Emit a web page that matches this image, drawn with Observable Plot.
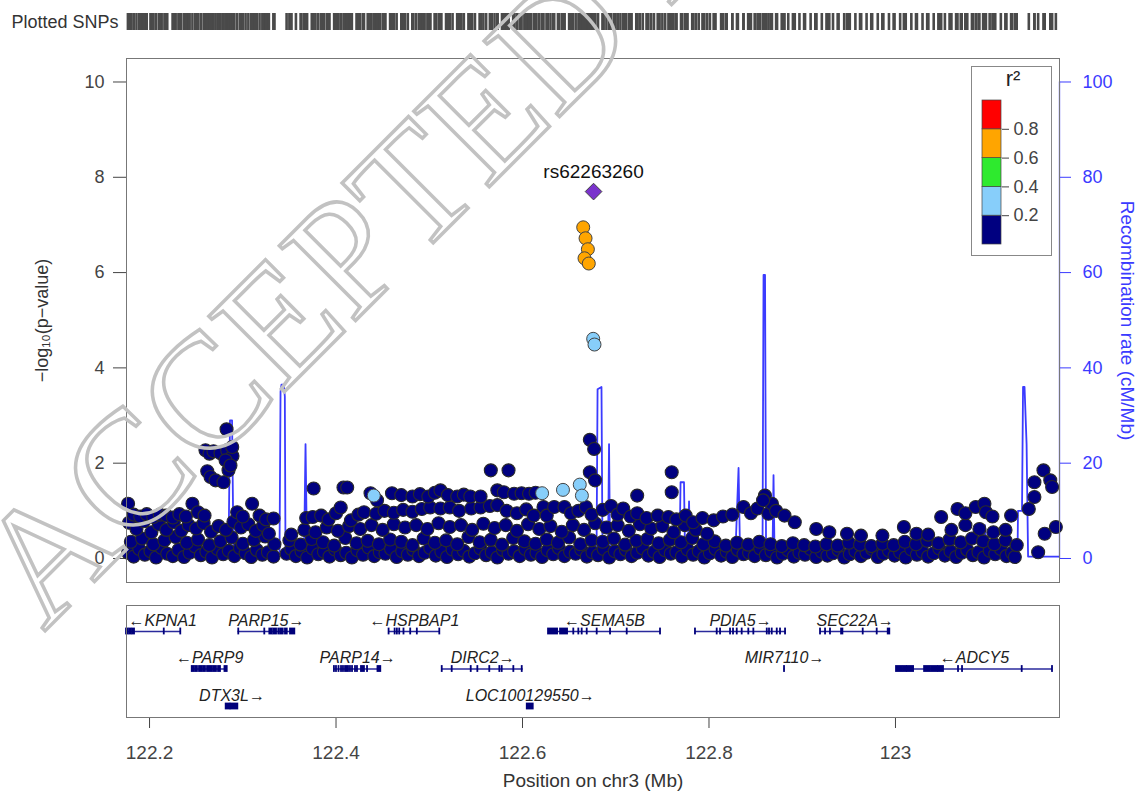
<!DOCTYPE html>
<html><head><meta charset="utf-8">
<script src="https://cdn.jsdelivr.net/npm/d3@7"></script>
<script src="https://cdn.jsdelivr.net/npm/@observablehq/plot@0.6"></script>
<style>
body{margin:0;background:#fff;}
#wrap{position:relative;width:1143px;height:793px;overflow:hidden;background:#fff;font-family:"Liberation Sans",Arial,Helvetica,sans-serif;}
</style></head><body><div id="wrap"></div>
<script>
const FONT = '"Liberation Sans", Arial, Helvetica, sans-serif';
const BLUE = "#3b3bff";
const NAVY = "#000080";

// ---- axes / scales ----
const xDomain = [122.1753, 123.1759];
const yDomain = [-0.504, 10.493];
const xTicks = [122.2, 122.4, 122.6, 122.8, 123.0];
const yTicks = [0, 2, 4, 6, 8, 10];
const recombTicks = [0, 20, 40, 60, 80, 100];
const r2Breaks = [0, 0.2, 0.4, 0.6, 0.8, 1];
const r2Colors = ["#000080", "#87CEFA", "#2EEA2E", "#FFA500", "#FF0000"];
const r2Labels = [0.2, 0.4, 0.6, 0.8];

// ---- SNPs: [position Mb, -log10 p] ----
const snpBottom = [
[122.177,0.12],[122.183,0.04],[122.189,0.20],[122.195,0.08],[122.201,0.15],[122.207,0.02],[122.213,0.22],[122.219,0.10],[122.225,0.05],[122.231,0.18],[122.237,0.03],[122.243,0.12],[122.249,0.25],[122.255,0.07],[122.261,0.14],[122.267,0.02],[122.273,0.20],[122.279,0.09],[122.285,0.16],[122.291,0.05],[122.297,0.22],[122.303,0.11],[122.309,0.03],[122.315,0.18],[122.321,0.08],[122.327,0.13],[122.333,0.04],
[122.347,0.10],[122.352,0.20],[122.357,0.05],[122.363,0.15],[122.369,0.02],[122.375,0.21],[122.381,0.09],[122.387,0.14],[122.393,0.04],[122.399,0.19],[122.405,0.07],[122.411,0.12],[122.417,0.02],[122.423,0.17],[122.429,0.08],[122.435,0.23],[122.441,0.05],[122.447,0.13],[122.453,0.10],[122.459,0.20],[122.465,0.03],[122.471,0.15],[122.477,0.08],[122.483,0.18],[122.489,0.05],[122.495,0.12],[122.501,0.22],[122.507,0.06],[122.513,0.14],[122.519,0.03],[122.525,0.19],[122.531,0.09],[122.537,0.16],[122.543,0.04],[122.549,0.11],[122.555,0.21],[122.561,0.07],[122.567,0.13],[122.573,0.02],[122.579,0.18],[122.585,0.10],[122.591,0.15],[122.597,0.05],[122.603,0.20],[122.609,0.08],[122.615,0.12],[122.621,0.03],[122.627,0.17],[122.633,0.09],[122.639,0.22],[122.645,0.05],[122.651,0.14],[122.657,0.10],[122.663,0.19],[122.669,0.04],[122.675,0.13],[122.681,0.07],[122.687,0.20],[122.693,0.02],[122.699,0.15],[122.705,0.09],[122.711,0.18],[122.717,0.05],[122.723,0.12],[122.729,0.21],[122.735,0.06],[122.741,0.14],[122.747,0.03],[122.753,0.17],[122.759,0.10],[122.765,0.13],[122.771,0.04],[122.777,0.19],[122.783,0.08],[122.789,0.15],[122.795,0.02],[122.801,0.11],[122.807,0.20],[122.813,0.06],[122.819,0.14],[122.825,0.03],[122.831,0.18],[122.837,0.09],[122.843,0.12],[122.849,0.05],[122.855,0.21],[122.861,0.07],[122.867,0.15],[122.873,0.02],[122.879,0.10],[122.885,0.17],[122.891,0.04],[122.897,0.12],[122.903,0.08],[122.909,0.20],[122.915,0.03],[122.921,0.14],[122.927,0.06],[122.933,0.11],[122.939,0.18],[122.945,0.02],[122.951,0.09],[122.957,0.15],[122.963,0.05],[122.969,0.12],[122.975,0.20],[122.981,0.03],[122.987,0.10],[122.993,0.16],[122.999,0.06],[123.005,0.13],[123.011,0.02],[123.017,0.19],[123.023,0.08],[123.029,0.14],[123.035,0.04],[123.041,0.11],[123.047,0.21],[123.053,0.06],[123.059,0.15],[123.065,0.03],[123.071,0.12],[123.077,0.18],[123.083,0.07],[123.089,0.13],[123.095,0.02],[123.101,0.16],[123.107,0.09],[123.113,0.20],[123.119,0.05],[123.125,0.12],[123.128,0.03],[123.153,0.13]
];
const snpLow = [
[122.180,0.35],[122.192,0.42],[122.204,0.30],[122.216,0.38],[122.228,0.45],[122.240,0.33],[122.252,0.40],[122.264,0.28],[122.276,0.36],[122.288,0.44],[122.300,0.31],[122.312,0.39],[122.324,0.46],[122.334,0.30],[122.350,0.38],[122.362,0.29],[122.374,0.41],[122.386,0.34],[122.398,0.27],[122.410,0.43],[122.422,0.32],[122.434,0.37],[122.446,0.30],[122.458,0.40],[122.470,0.35],[122.482,0.28],[122.494,0.42],[122.506,0.33],[122.518,0.38],[122.530,0.30],[122.542,0.45],[122.554,0.34],[122.566,0.39],[122.578,0.29],[122.590,0.43],[122.602,0.36],[122.614,0.31],[122.626,0.40],[122.638,0.33],[122.650,0.44],[122.662,0.30],[122.674,0.38],[122.686,0.35],[122.698,0.42],[122.710,0.29],[122.722,0.37],[122.734,0.41],[122.746,0.32],[122.758,0.39],[122.770,0.34],[122.782,0.43],[122.794,0.30],[122.806,0.36],[122.818,0.27],[122.830,0.33],[122.842,0.29],[122.854,0.35],[122.866,0.30],[122.878,0.26],[122.890,0.32],[122.902,0.28],[122.914,0.25],[122.926,0.30],[122.938,0.27],[122.950,0.33],[122.962,0.29],[122.974,0.26],[122.986,0.31],[122.998,0.28],[123.010,0.35],[123.022,0.30],[123.034,0.37],[123.046,0.32],[123.058,0.40],[123.070,0.34],[123.082,0.42],[123.094,0.36],[123.106,0.30],[123.118,0.38],[123.130,0.28]
];
const snpMid = [
[122.178,0.75],[122.186,0.62],[122.194,0.78],[122.202,0.55],[122.210,0.72],[122.218,0.60],[122.226,0.76],[122.234,0.58],[122.242,0.70],[122.250,0.63],[122.258,0.74],[122.266,0.56],[122.274,0.68],[122.282,0.60],[122.290,0.77],[122.298,0.65],[122.306,0.72],[122.314,0.58],[122.322,0.70],[122.328,0.52],
[122.352,0.50],[122.366,0.60],[122.378,0.55],[122.390,0.65],[122.402,0.58],[122.414,0.68],[122.426,0.62],[122.438,0.70],[122.450,0.60],[122.462,0.72],[122.474,0.65],[122.486,0.70],[122.498,0.62],[122.510,0.74],[122.522,0.66],[122.534,0.70],[122.546,0.60],[122.558,0.73],[122.570,0.64],[122.582,0.70],[122.594,0.58],[122.606,0.72],[122.618,0.62],[122.630,0.68],[122.642,0.56],[122.654,0.70],[122.666,0.60],[122.678,0.74],[122.690,0.65],[122.702,0.70],[122.714,0.58],[122.726,0.72],[122.738,0.63],[122.750,0.68],[122.762,0.55],[122.774,0.70],[122.786,0.60],[122.798,0.52],
[122.915,0.62],[122.929,0.55],[122.948,0.52],[122.963,0.48],[122.986,0.48],[123.009,0.66],[123.0225,0.52],[123.035,0.50],[123.060,0.60],[123.075,0.70],[123.090,0.62],[123.105,0.55],[123.118,0.60],[123.160,0.52],[123.172,0.66]
];
const snpUpper = [
[122.177,1.15],[122.183,0.92],[122.190,0.88],[122.197,0.93],[122.204,0.87],[122.211,0.92],[122.218,0.90],[122.225,0.86],[122.232,0.93],[122.239,0.88],[122.246,1.15],[122.252,0.97],[122.259,0.90],
[122.294,0.97],[122.300,0.88],[122.310,1.15],[122.318,0.90],[122.325,0.82],[122.333,0.84],
[122.368,0.85],[122.375,0.87],[122.384,0.90],[122.392,0.82],[122.400,0.95],[122.405,1.07],[122.416,0.80],[122.424,0.92],[122.430,0.97],[122.443,0.94],[122.452,1.00],[122.462,0.96],[122.472,1.02],[122.482,0.98],[122.492,1.04],[122.501,1.07],[122.512,1.05],[122.522,1.07],[122.532,1.00],[122.545,1.05],[122.555,1.07],[122.565,1.10],[122.573,1.12],
[122.583,1.00],[122.594,0.95],[122.604,1.03],[122.612,0.90],[122.6225,1.08],[122.626,0.90],[122.634,1.08],[122.645,1.08],[122.652,0.95],[122.660,1.00],[122.668,1.08],[122.674,0.92],
[122.686,1.02],[122.695,1.10],[122.702,0.92],[122.708,1.05],[122.716,0.88],[122.723,0.95],[122.733,0.85],[122.745,0.90],[122.7565,0.87],[122.765,0.82],[122.775,0.90],[122.783,0.76],[122.793,0.85],[122.805,0.80],[122.815,0.88],[122.825,0.92],[122.837,1.08],[122.845,0.95],[122.852,1.05],[122.8637,0.94],[122.8675,1.15],[122.872,1.00],[122.881,0.90],[122.892,0.76],
[123.049,0.87],[123.0665,1.04],[123.075,0.95],[123.086,1.08],[123.0954,1.15],[123.097,0.97],[123.104,0.88],[123.124,0.90],[123.143,1.04]
];
const snpHigh = [
[122.2600,2.27],[122.2643,2.20],[122.2686,2.25],[122.2761,2.21],[122.2833,2.27],[122.2890,2.15],[122.2826,2.71],[122.2887,2.34],[122.2815,2.06],[122.2619,1.83],[122.2654,1.71],[122.2708,1.64],[122.2793,1.60],[122.2847,1.85],[122.2868,1.95],
[122.376,1.47],[122.408,1.49],[122.412,1.49],[122.437,1.37],[122.444,1.22],[122.460,1.37],[122.470,1.33],[122.482,1.30],[122.490,1.35],[122.499,1.30],[122.506,1.38],[122.512,1.43],[122.520,1.33],[122.530,1.30],[122.537,1.34],[122.544,1.30],[122.555,1.30],[122.566,1.85],[122.573,1.43],[122.580,1.39],[122.585,1.85],[122.591,1.36],[122.599,1.37],[122.607,1.36],[122.614,1.38],
[122.6722,2.49],[122.6768,2.30],[122.6722,1.81],[122.6778,1.64],[122.723,1.32],[122.760,1.81],[122.760,1.39],[122.860,1.32],[122.858,1.22],
[123.149,1.29],[123.149,1.60],[123.1587,1.85],[123.166,1.64],[123.168,1.50]
];
const snpLightBlue = [[122.4405,1.32],[122.621,1.37],[122.6434,1.44],[122.6614,1.55],[122.6637,1.32],[122.6758,4.61],[122.6772,4.49]];
const snpOrange = [[122.6651,6.95],[122.6676,6.72],[122.6701,6.49],[122.6665,6.30],[122.6711,6.19]];
const leadSnp = [[122.6762,7.70]];
const leadName = "rs62263260";

// ---- recombination rate: [position Mb, cM/Mb] ----
const recomb = [
[122.1753,0.8],[122.2010,1.2],[122.2330,0.6],[122.2650,1.0],[122.2847,0.8],[122.2863,29],[122.2885,29],[122.2901,0.8],[122.3083,1.3],[122.3297,1.0],[122.3394,1.0],[122.3405,35],[122.3415,36.5],[122.3440,36.5],[122.3451,34],[122.3458,1.0],[122.3657,0.8],[122.3673,24],[122.3689,0.8],[122.4155,1.2],[122.4692,0.9],[122.5228,1.4],[122.5764,1.0],[122.6301,1.5],[122.6729,1.2],[122.6794,1.0],[122.6805,35.5],[122.6847,36],[122.6858,1.2],[122.6917,1.0],[122.6928,24],[122.6939,1.0],[122.7266,1.3],[122.7684,1.0],[122.7695,16],[122.7732,16],[122.7743,1.0],[122.7775,1.0],[122.7786,12],[122.7797,1.0],[122.8016,1.5],[122.8285,2.0],[122.8317,19],[122.8333,1.0],[122.8574,1.2],[122.8585,59.5],[122.8601,59.5],[122.8612,1.2],[122.8681,1.0],[122.8692,17.5],[122.8703,1.0],[122.8982,0.5],[122.9518,0.4],[123.0054,0.6],[123.0590,0.8],[123.0944,1.0],[123.0960,7],[123.0977,1.0],[123.1127,1.2],[123.1309,1.0],[123.1314,10],[123.1357,10],[123.1368,36],[123.1384,36],[123.1406,24],[123.1422,0.4],[123.1759,0.4]
];

// ---- genes: [name, strand, start, end, row] ----
const genes = [
["KPNA1","-",122.142,122.2343,1],["PARP15","+",122.2949,122.3558,1],["HSPBAP1","-",122.4569,122.5113,1],
["SEMA5B","-",122.6279,122.7480,1],["PDIA5","+",122.7855,122.8821,1],["SEC22A","+",122.9196,122.9939,1],
["PARP9","-",122.2458,122.2833,2],["PARP14","+",122.3983,122.4480,2],["DIRC2","+",122.5139,122.6008,2],
["MIR7110","+",122.8805,122.8815,2],["ADCY5","-",123.0011,123.1684,2],
["DTX3L","+",122.2822,122.2947,3],["LOC100129550","+",122.6051,122.6115,3]
];
const geneExons = {
KPNA1:[[122.1753,122.1774],[122.1791,122.1807],[122.1823,122.1839],122.2158,122.2335],
PARP15:[122.2957,122.3236,[122.3290,122.3316],[122.3333,122.3362],122.3386,[122.3405,122.3434],[122.3458,122.3477],[122.3512,122.3558]],
HSPBAP1:[122.4569,122.4634,122.4658,122.4683,122.4729,122.4801,122.4872,122.5113],
SEMA5B:[[122.6279,122.6376],[122.6408,122.6483],122.6550,122.6604,122.6640,122.6694,122.6801,122.6944,122.7123,122.7480],
PDIA5:[122.7855,122.8088,122.8124,122.8231,122.8263,122.8303,122.8356,122.8427,122.8481,122.8625,122.8649,122.8678,122.8732,122.8767,122.8821],
SEC22A:[122.9196,122.9250,122.9303,[122.9422,122.9436],122.9654,122.9804,[122.9922,122.9939]],
PARP9:[[122.2458,122.2482],[122.2498,122.2514],[122.2536,122.2563],[122.2579,122.2600],[122.2622,122.2675],[122.2691,122.2718],[122.2740,122.2761],[122.2809,122.2833]],
PARP14:[122.3983,122.4005,122.4032,122.4059,122.4080,[122.4102,122.4134],122.4155,122.4177,122.4209,122.4230,[122.4273,122.4305],122.4338,[122.4450,122.4480]],
DIRC2:[122.5139,122.5246,122.5450,122.5521,122.5649,122.5757,122.5782,122.5907,122.5997],
MIR7110:[122.8810],
ADCY5:[[123.0011,123.0076],[123.0092,123.0119],[123.0130,123.0194],[123.0312,123.0376],[123.0392,123.0451],[123.0462,123.0515],123.0676,123.0719,123.1359,123.1684],
DTX3L:[[122.2822,122.2863],[122.2874,122.2947]],
LOC100129550:[[122.6051,122.6115]]
};

// ---- derived tables ----
const navy = [...snpBottom, ...snpLow, ...snpMid, ...snpUpper, ...snpHigh];
const allSnps = [...navy, ...snpLightBlue, ...snpOrange, ...leadSnp].map(d => d[0]);
const geneRecs = genes.map(([name, strand, start, end, row]) => ({name, strand, start, end, row,
  label: strand === "-" ? "\u2190" + name : name + "\u2192"}));
const exonRecs = [];
for (const g of geneRecs) for (const e of geneExons[g.name]) {
  const [s, t] = Array.isArray(e) ? e : [e, e];
  exonRecs.push({s, e: t, row: g.row});
}
const r2Bins = r2Colors.map((c, i) => ({lo: r2Breaks[i], hi: r2Breaks[i + 1], color: c}));

const wrap = document.getElementById("wrap");
function place(el, left, top) {
  el.style.position = "absolute"; el.style.left = left + "px"; el.style.top = top + "px";
  el.style.background = "transparent"; el.style.maxWidth = "none";
  wrap.appendChild(el);
  return el;
}

// ---- rug of plotted SNPs ----
place(Plot.plot({
  width: 1143, height: 42, marginLeft: 126, marginRight: 84, marginTop: 13, marginBottom: 12,
  x: {domain: xDomain, axis: null},
  style: {fontFamily: FONT},
  marks: [
    Plot.tickX(allSnps, {x: d => d, stroke: "#4a4a4a", strokeWidth: 2.6}),
    Plot.text(["Plotted SNPs"], {frameAnchor: "left", dx: -8, textAnchor: "end", fontSize: 18, fill: "#333"})
  ]
}), 0, 0);

// ---- main association panel ----
place(Plot.plot({
  width: 1143, height: 558, marginLeft: 126, marginRight: 84, marginTop: 16, marginBottom: 18,
  x: {domain: xDomain, axis: null},
  y: {domain: yDomain},
  style: {fontFamily: FONT, overflow: "visible"},
  marks: [
    Plot.line(recomb, {x: d => d[0], y: d => d[1] / 10, stroke: BLUE, strokeWidth: 1.8, clip: true}),
    Plot.ruleX([xDomain[0]], {y1: 0, y2: 10, stroke: "#444", strokeWidth: 1}),
    Plot.ruleX([xDomain[1]], {y1: 0, y2: 10, stroke: BLUE, strokeWidth: 1.3}),
    Plot.axisY(yTicks, {anchor: "left", tickSize: 13, tickPadding: 9, fontSize: 18, color: "#444", label: null}),
    Plot.axisY(recombTicks.map(v => v / 10), {anchor: "right", tickSize: 11, tickPadding: 12, fontSize: 18, color: BLUE,
      tickFormat: v => String(Math.round(v * 10)), label: null}),
    Plot.dot(navy, {x: d => d[0], y: d => d[1], r: 6.5, fill: NAVY, stroke: "#2a2a2a", strokeWidth: 1.1}),
    Plot.dot(snpLightBlue, {x: d => d[0], y: d => d[1], r: 6.5, fill: r2Colors[1], stroke: "#444", strokeWidth: 1}),
    Plot.dot(snpOrange, {x: d => d[0], y: d => d[1], r: 6.5, fill: r2Colors[3], stroke: "#444", strokeWidth: 1}),
    Plot.dot(leadSnp, {x: d => d[0], y: d => d[1], r: 7.5, symbol: "diamond2", fill: "#7a33cc", stroke: "#444", strokeWidth: 1}),
    Plot.text(leadSnp, {x: d => d[0], y: d => d[1], text: () => leadName, dy: -20, fontSize: 19, fill: "#111"}),
    Plot.text(["\u2212log\u2081\u2080(p\u2212value)"], {frameAnchor: "left", dx: -84, rotate: -90, textAnchor: "middle", lineAnchor: "middle", fontSize: 18, fill: "#333"}),
    Plot.text(["Recombination rate (cM/Mb)"], {frameAnchor: "right", dx: 68, rotate: 90, textAnchor: "middle", lineAnchor: "middle", fontSize: 19, fill: BLUE}),
    Plot.frame({stroke: "#777"})
  ]
}), 0, 42);

// ---- gene panel + x axis ----
const clipped = geneRecs.filter(g => g.start < xDomain[0]);
const unclipped = geneRecs.filter(g => g.start >= xDomain[0]);
place(Plot.plot({
  width: 1143, height: 193, marginLeft: 126, marginRight: 84, marginTop: 5, marginBottom: 76,
  x: {domain: xDomain},
  y: {domain: [0.3067, 3.293], reverse: true, axis: null},
  style: {fontFamily: FONT, overflow: "visible"},
  marks: [
    Plot.ruleY(geneRecs, {y: "row", x1: d => Math.max(d.start, xDomain[0]), x2: "end", stroke: "#2a2a9c", strokeWidth: 1.6}),
    Plot.rect(exonRecs, {x1: "s", x2: "e", y1: "row", y2: "row", insetLeft: -0.9, insetRight: -0.9, insetTop: -3.4, insetBottom: -3.4, fill: "#00007a"}),
    Plot.text(unclipped, {x: d => (d.start + d.end) / 2, y: "row", dy: -11, text: "label", fontSize: 16, fontStyle: "italic", fill: "#222"}),
    Plot.text(clipped, {x: () => xDomain[0], y: "row", dy: -11, dx: 2, textAnchor: "start", text: "label", fontSize: 16, fontStyle: "italic", fill: "#222"}),
    Plot.axisX(xTicks, {tickSize: 11, tickPadding: 17, fontSize: 19, color: "#444", label: null,
      tickFormat: d => String(+d.toFixed(1))}),
    Plot.text(["Position on chr3 (Mb)"], {frameAnchor: "bottom", dy: 63, lineAnchor: "middle", fontSize: 19, fill: "#333"}),
    Plot.frame({stroke: "#777"})
  ]
}), 0, 600);

// ---- r² legend ----
const leg = Plot.plot({
  width: 79, height: 188, marginLeft: 10, marginRight: 50, marginTop: 33, marginBottom: 11,
  x: {domain: [0, 1], axis: null},
  y: {domain: [0, 1], axis: null},
  color: {type: "identity"},
  style: {fontFamily: FONT, overflow: "visible"},
  marks: [
    Plot.rect(r2Bins, {x1: 0, x2: 1, y1: "lo", y2: "hi", fill: "color", stroke: "#444", strokeWidth: 0.7}),
    Plot.axisY(r2Labels, {anchor: "right", tickSize: 7, tickPadding: 5, fontSize: 18, color: "#444", label: null}),
    Plot.text(["r\u00B2"], {frameAnchor: "top", dx: 21, dy: -22, lineAnchor: "middle", fontSize: 22, fill: "#222"})
  ]
});
place(leg, 971, 66);
leg.style.background = "white";
leg.style.border = "1.5px solid #888";

// ---- watermark ----
const NS = "http://www.w3.org/2000/svg";
const wm = document.createElementNS(NS, "svg");
wm.setAttribute("width", 1143); wm.setAttribute("height", 793);
wm.style.position = "absolute"; wm.style.left = "0px"; wm.style.top = "0px"; wm.style.pointerEvents = "none";
const wt = document.createElementNS(NS, "text");
wt.setAttribute("x", 44); wt.setAttribute("y", 632);
wt.setAttribute("transform", "rotate(-45 44 632)");
wt.setAttribute("font-family", '"Liberation Serif", "Times New Roman", serif');
wt.setAttribute("font-size", 163);
wt.setAttribute("fill", "none");
wt.setAttribute("stroke", "#c2c2c2");
wt.setAttribute("stroke-width", 3.5);
wt.textContent = "ACCEPTED MANUSCRIPT";
wm.appendChild(wt);
wrap.appendChild(wm);
</script></body></html>
